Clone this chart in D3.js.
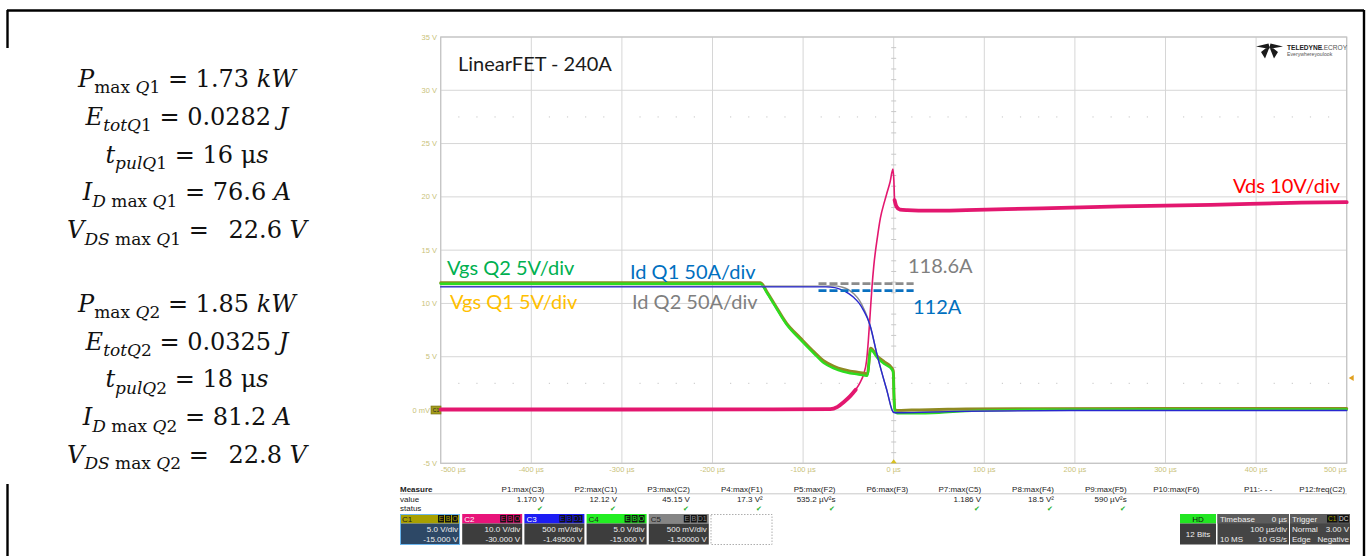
<!DOCTYPE html>
<html><head><meta charset="utf-8">
<script src="https://cdn.jsdelivr.net/npm/d3@7"></script>
<style>
html,body{margin:0;padding:0;background:#fff;}
svg{display:block;}
</style></head><body>
<svg id="c" width="1370" height="556"></svg>
<script>
// ---------- axis ticks ----------
const timeTicks = [-500,-400,-300,-200,-100,0,100,200,300,400,500];
const timeTickLabels = ["-500 µs","-400 µs","-300 µs","-200 µs","-100 µs","0 µs","100 µs","200 µs","300 µs","400 µs","500 µs"];
const voltTicks = [35,30,25,20,15,10,5,0,-5];
const voltTickLabels = ["35 V","30 V","25 V","20 V","15 V","10 V","5 V","0 mV","-5 V"];

// ---------- traces (time in µs, level in screen volts) ----------
const vdsTime = [-500,-300,-150,-70,-62,-55,-48,-42,-37,-33,-30,-28,-26,-24,-22,-18,-14.7,-10,-7,-4,-0.8,0.2,1,3,7,15,40,80,150,250,350,450,500];
const vdsVolt = [0.05,0.05,0.06,0.08,0.3,0.75,1.3,1.9,2.6,3.4,4.6,6.5,9.0,11.5,13.5,16.2,18.0,19.6,20.5,21.4,22.6,21.5,19.7,19.1,18.8,18.75,18.7,18.75,18.9,19.1,19.25,19.45,19.5];

const vgsTime = [-500,-147,-140,-132,-118,-103,-88,-77,-66,-56,-48,-40,-33,-29,-25.5,-18,-10,-2,-0.5,0.5,1.5,4,20,50,80,150,300,500];
const vgsQ2Volt = [11.85,11.85,11.0,9.9,8.0,6.6,5.3,4.4,3.9,3.6,3.45,3.35,3.25,3.2,5.65,4.9,4.3,3.8,3.5,0.8,-0.1,-0.3,-0.3,-0.25,-0.1,0.02,0.05,0.05];
const vgsQ1Volt = [11.95,11.95,11.1,10.0,8.1,6.75,5.45,4.6,4.1,3.8,3.65,3.55,3.45,3.4,5.8,5.05,4.5,3.95,3.65,0.9,0.05,-0.05,0.0,0.05,0.1,0.12,0.15,0.15];

const idTime = [-500,-75,-65,-58,-50,-44,-38,-33,-29,-26,-18.4,-7.4,-0.5,1,10,60,100,200,500];
const idQ1Volt = [11.55,11.55,11.48,11.3,10.95,10.55,10.0,9.3,8.6,7.9,5.2,1.8,-0.2,-0.25,-0.25,-0.15,-0.1,-0.05,-0.05];
const idQ2Volt = [11.6,11.62,11.65,11.55,11.3,10.9,10.3,9.5,8.7,7.9,5.2,1.8,-0.2,-0.2,-0.2,-0.12,-0.08,-0.03,-0.03];

// ---------- current annotations (A) ----------
const peakCurrents = [118.6, 112];
const peakLabels = ["118.6A", "112A"];
const peakSpan = [-83, 22];

// ---------- summary equations ----------
const eqSym = ["P","E","t","I","V","P","E","t","I","V"];
const eqSub = ["max Q1","totQ1","pulQ1","D max Q1","DS max Q1","max Q2","totQ2","pulQ2","D max Q2","DS max Q2"];
const eqValue = ["1.73","0.0282","16","76.6","22.6","1.85","0.0325","18","81.2","22.8"];
const eqUnit = ["kW","J","μs","A","V","kW","J","μs","A","V"];

// ---------- measurement readout ----------
const measNames = ["P1:max(C3)","P2:max(C1)","P3:max(C2)","P4:max(F1)","P5:max(F2)","P6:max(F3)","P7:max(C5)","P8:max(F4)","P9:max(F5)","P10:max(F6)","P11:- - -","P12:freq(C2)"];
const measValues = ["1.170 V","12.12 V","45.15 V","17.3 V²","535.2 µV²s","","1.186 V","18.5 V²","590 µV²s","","",""];
const chNames = ["C1","C2","C3","C4","C5"];
const chScale = ["5.0 V/div","10.0 V/div","500 mV/div","5.0 V/div","500 mV/div"];
const chOffset = ["-15.000 V","-30.000 V","-1.49500 V","-15.000 V","-1.50000 V"];
const chFlags = ["EBO","EBO","EBD1","EBO","EBD1"];

const svg = d3.select("#c");

// outer frame
const frame = svg.append("g").attr("stroke","#000").attr("stroke-width",2.4);
frame.append("line").attr("x1",7).attr("y1",10.5).attr("x2",1364).attr("y2",10.5);
frame.append("line").attr("x1",1364).attr("y1",10).attr("x2",1364).attr("y2",556);
frame.append("line").attr("x1",7.5).attr("y1",10).attr("x2",7.5).attr("y2",48);
frame.append("line").attr("x1",7.5).attr("y1",484).attr("x2",7.5).attr("y2",556);

// ---------- summary equations ----------
const eqBase = [86.7,124.6,162.5,200.4,238.3,311.7,349.5,387.3,425.1,462.5];
const eqG = svg.append("g").attr("font-family","'DejaVu Serif', serif").attr("fill","#111");
function runs(str){
  const out = [];
  const re = /(max)|([A-Za-z]+)|(\d+)|(\s+)/g; let m;
  while((m = re.exec(str))){
    if(m[1]) out.push([m[1],false]);
    else if(m[2]) out.push([m[2],true]);
    else if(m[3]) out.push([m[3],false]);
    else out.push([" ",false]);
  }
  return out;
}
eqSym.forEach((s,i)=>{
  const t = eqG.append("text").attr("x",187).attr("y",eqBase[i]).attr("text-anchor","middle").attr("font-size",24);
  t.append("tspan").attr("font-style","italic").text(s);
  const r = runs(eqSub[i]);
  r.forEach((p,j)=>{
    const ts = t.append("tspan").attr("font-size",17).attr("font-style",p[1]?"italic":"normal").text(p[0]);
    if(j===0) ts.attr("dy",6.5);
  });
  const wide = i%5===4 ? "\u2002" : "";
  t.append("tspan").attr("dy",-6.5).text(" = " + wide + eqValue[i] + " ");
  const u = eqUnit[i];
  if(u==="μs"){
    t.append("tspan").text("μ");
    t.append("tspan").attr("font-style","italic").text("s");
  } else {
    t.append("tspan").attr("font-style","italic").text(u);
  }
});

// ---------- scope plot ----------
const x = d3.scaleLinear().domain([-500,500]).range([440.7,1346.7]);
const y = d3.scaleLinear().domain([-5,35]).range([463.3,37]);
const ampsToScreen = a => a / 10; // 50 A/div on a 5 V/div screen

const grid = svg.append("g");
grid.selectAll("line.v").data(timeTicks).join("line")
  .attr("x1",d=>x(d)).attr("x2",d=>x(d)).attr("y1",y(35)).attr("y2",y(-5))
  .attr("stroke","#d6d6d6").attr("stroke-width",1);
grid.selectAll("line.h").data(voltTicks).join("line")
  .attr("x1",x(-500)).attr("x2",x(500)).attr("y1",d=>y(d)).attr("y2",d=>y(d))
  .attr("stroke","#d6d6d6").attr("stroke-width",1);
grid.append("rect").attr("x",x(-500)).attr("y",y(35)).attr("width",x(500)-x(-500)).attr("height",y(-5)-y(35))
  .attr("fill","none").attr("stroke","#c4c4c4").attr("stroke-width",1.2);

// minor marks along the centre time line
const minorV = d3.range(-5,35.01,1).filter(v=>v%5!==0);
grid.selectAll("line.mv").data(minorV).join("line")
  .attr("x1",x(0)-2.5).attr("x2",x(0)+2.5).attr("y1",d=>y(d)).attr("y2",d=>y(d))
  .attr("stroke","#c8c8c8");
// dotted minor rows
const minorT = d3.range(-500,500.1,20).filter(t=>t%100!==0);
[27.5,2.5].forEach(lv=>{
  grid.selectAll(null).data(minorT).join("rect")
    .attr("x",d=>x(d)-0.6).attr("y",y(lv)-0.6).attr("width",1.2).attr("height",1.2).attr("fill","#cfcfcf");
});

// axis labels
const axG = svg.append("g").attr("font-family","'Liberation Sans', Arial, sans-serif").attr("font-size",7.5).attr("fill","#c9c27a");
axG.selectAll("text.y").data(voltTicks).join("text")
  .attr("x",d=>d===0?430:437).attr("y",d=>y(d)+2.6).attr("text-anchor","end").text((d,i)=>voltTickLabels[i]);
axG.selectAll("text.x").data(timeTicks).join("text")
  .attr("x",d=>x(d)).attr("y",472)
  .attr("text-anchor",(d,i)=>i===0?"start":(i===timeTicks.length-1?"end":"middle"))
  .text((d,i)=>timeTickLabels[i]);

// channel 1 ground marker and trigger markers
svg.append("rect").attr("x",431).attr("y",y(0)-4).attr("width",10).attr("height",8).attr("fill","#a49c1c").attr("stroke","#6e6a10").attr("stroke-width",0.6);
svg.append("text").attr("x",436).attr("y",y(0)+2).attr("text-anchor","middle").attr("font-size",5).attr("font-family","'Liberation Sans', Arial").attr("fill","#222").text("C1");
svg.append("path").attr("d",`M${x(500)+2},${y(3)} l5,-3 l0,6 z`).attr("fill","#e0a020");
svg.append("path").attr("d",`M${x(0)},${y(-5)-4} l-3,4 l6,0 z`).attr("fill","#d8c020");

// logo
const logo = svg.append("g");
logo.append("path").attr("d","M1256,46.5 L1268.5,43.5 L1270,49 Z M1283,46.5 L1270.5,43.5 L1269,49 Z M1265.5,48.5 L1269,48.5 L1265,58.5 L1261,52 Z M1270,48.5 L1273.5,48.5 L1278,52 L1274,58.5 Z").attr("fill","#1a1a1a");
logo.append("text").attr("x",1287).attr("y",50).attr("font-family","'Liberation Sans', Arial").attr("font-weight","bold").attr("font-size",6.6).attr("fill","#222").text("TELEDYNE");
logo.append("text").attr("x",1320).attr("y",50).attr("font-family","'Liberation Sans', Arial").attr("font-size",6.6).attr("fill","#555").text("LECROY");
logo.append("text").attr("x",1287).attr("y",56).attr("font-family","'Liberation Sans', Arial").attr("font-size",5.2).attr("fill","#555").text("Everywhereyoulook");

// traces
const line = d3.line().x(d=>x(d[0])).y(d=>y(d[1])).curve(d3.curveMonotoneX);
const tr = svg.append("g").attr("fill","none").attr("stroke-linejoin","round").attr("stroke-linecap","round");
const vdsPts = d3.zip(vdsTime,vdsVolt);
// fast edge drawn thin, the slow (noisy) parts drawn as a wider band
tr.append("path").attr("d",line(vdsPts)).attr("stroke","#e3176f").attr("stroke-width",1.6);
tr.append("path").attr("d",line(vdsPts.filter(d=>d[0]<=-42))).attr("stroke","#e3176f").attr("stroke-width",3.8);
tr.append("path").attr("d",line(vdsPts.filter(d=>d[0]>=1))).attr("stroke","#e3176f").attr("stroke-width",3.8);
tr.append("path").attr("d",line(d3.zip(vgsTime,vgsQ1Volt))).attr("stroke","#8f8a22").attr("stroke-width",3);
tr.append("path").attr("d",line(d3.zip(vgsTime,vgsQ2Volt))).attr("stroke","#2edc20").attr("stroke-width",2.4);
tr.append("path").attr("d",line(d3.zip(idTime,idQ2Volt))).attr("stroke","#8c8c8c").attr("stroke-width",1.4);
tr.append("path").attr("d",line(d3.zip(idTime,idQ1Volt))).attr("stroke","#2828d0").attr("stroke-width",1.4);

// peak-current markers
const peakColors = ["#8c8c8c","#0a70c0"];
peakCurrents.forEach((a,i)=>{
  svg.append("line").attr("x1",x(peakSpan[0])).attr("x2",x(peakSpan[1]))
    .attr("y1",y(ampsToScreen(a))).attr("y2",y(ampsToScreen(a)))
    .attr("stroke",peakColors[i]).attr("stroke-width",2.6).attr("stroke-dasharray","8,3");
});

// trace annotations
const ann = svg.append("g").attr("font-family","Lato, 'Open Sans', sans-serif").attr("font-size",20);
ann.append("text").attr("x",458).attr("y",70.5).attr("fill","#1a1a1a").text("LinearFET - 240A");
ann.append("text").attr("x",447).attr("y",275).attr("fill","#00b050").text("Vgs Q2 5V/div");
ann.append("text").attr("x",450).attr("y",309).attr("fill","#ffc000").text("Vgs Q1 5V/div");
ann.append("text").attr("x",630).attr("y",279).attr("fill","#0070c0").text("Id Q1 50A/div");
ann.append("text").attr("x",632).attr("y",309).attr("fill","#7f7f7f").text("Id Q2 50A/div");
ann.append("text").attr("x",908).attr("y",273).attr("fill","#7f7f7f").text(peakLabels[0]);
ann.append("text").attr("x",913).attr("y",314).attr("fill","#0070c0").text(peakLabels[1]);
ann.append("text").attr("x",1340).attr("y",193).attr("text-anchor","end").attr("fill","#ff0000").text("Vds 10V/div");

// ---------- measurement readout ----------
const ro = svg.append("g").attr("font-family","'Liberation Sans', Arial, sans-serif").attr("font-size",8).attr("fill","#222");
ro.append("text").attr("x",400).attr("y",491.5).attr("font-weight","bold").text("Measure");
ro.append("text").attr("x",400).attr("y",501.5).text("value");
ro.append("text").attr("x",400).attr("y",510.5).text("status");
ro.append("line").attr("x1",400).attr("x2",1347).attr("y1",493.8).attr("y2",493.8).attr("stroke","#bbb").attr("stroke-width",0.8);
const colX = i => 544.3 + 72.8*i;
ro.selectAll("text.mn").data(measNames).join("text").attr("x",(d,i)=>colX(i)).attr("y",491.5).attr("text-anchor","end").text(d=>d);
ro.selectAll("text.mv").data(measValues).join("text").attr("x",(d,i)=>colX(i)).attr("y",501.5).attr("text-anchor","end").text(d=>d);
ro.selectAll("text.ms").data(measValues.filter(d=>d!=="").map(d=>measValues.indexOf(d))).join("text")
  .attr("x",d=>colX(d)-4).attr("y",511).attr("text-anchor","middle").attr("fill","#27b12a").attr("font-size",7).text("✔");

// channel descriptors
const chHead = ["#a8a000","#e8147a","#1c1cf4","#22ee22","#858585"];
chNames.forEach((c,i)=>{
  const x0 = 400 + 62.2*i, w = 60;
  const g = svg.append("g").attr("font-family","'Liberation Sans', Arial, sans-serif").attr("font-size",8);
  g.append("rect").attr("x",x0).attr("y",514).attr("width",w).attr("height",9.5).attr("fill",chHead[i]);
  g.append("rect").attr("x",x0).attr("y",523.5).attr("width",w).attr("height",21).attr("fill",i===0?"#2d4866":"#3d3d3d");
  if(i===0) g.append("rect").attr("x",x0+0.5).attr("y",514.5).attr("width",w-1).attr("height",30).attr("fill","none").attr("stroke","#6cb6ee").attr("stroke-width",1);
  g.append("text").attr("x",x0+2).attr("y",521.5).attr("fill",i===1||i===2?"#fff":"#222").text(c);
  const flags = chFlags[i]==="EBD1" ? ["E","B","D1"] : ["E","B","O"];
  let fx = x0 + w - 1;
  flags.slice().reverse().forEach(f=>{
    const fw = f.length>1 ? 10 : 7;
    fx -= fw;
    g.append("rect").attr("x",fx).attr("y",515).attr("width",fw-1).attr("height",7.5).attr("fill","#111");
    g.append("text").attr("x",fx+(fw-1)/2).attr("y",521.3).attr("text-anchor","middle").attr("font-size",7).attr("fill",chHead[i]).text(f);
  });
  g.append("text").attr("x",x0+w-2).attr("y",532).attr("text-anchor","end").attr("fill","#eee").text(chScale[i]);
  g.append("text").attr("x",x0+w-2).attr("y",542).attr("text-anchor","end").attr("fill","#eee").text(chOffset[i]);
});
svg.append("rect").attr("x",711).attr("y",514.5).attr("width",61).attr("height",30).attr("fill","none")
  .attr("stroke","#999").attr("stroke-dasharray","1.5,1.5").attr("stroke-width",0.8);

// acquisition boxes
const acq = svg.append("g").attr("font-family","'Liberation Sans', Arial, sans-serif").attr("font-size",8).attr("fill","#eee");
acq.append("rect").attr("x",1180).attr("y",514).attr("width",36).attr("height",9.5).attr("fill","#22e622");
acq.append("rect").attr("x",1180).attr("y",523.5).attr("width",36).attr("height",21).attr("fill","#3d3d3d");
acq.append("text").attr("x",1198).attr("y",521.5).attr("text-anchor","middle").attr("fill","#111").text("HD");
acq.append("text").attr("x",1198).attr("y",537).attr("text-anchor","middle").text("12 Bits");
acq.append("rect").attr("x",1217.5).attr("y",514).attr("width",71.5).attr("height",30.5).attr("fill","#454545");
acq.append("rect").attr("x",1217.5).attr("y",514).attr("width",71.5).attr("height",9.5).attr("fill","#5c5c5c");
acq.append("text").attr("x",1220).attr("y",521.5).text("Timebase");
acq.append("text").attr("x",1287).attr("y",521.5).attr("text-anchor","end").text("0 µs");
acq.append("text").attr("x",1287).attr("y",532).attr("text-anchor","end").text("100 µs/div");
acq.append("text").attr("x",1220).attr("y",542).text("10 MS");
acq.append("text").attr("x",1287).attr("y",542).attr("text-anchor","end").text("10 GS/s");
acq.append("rect").attr("x",1290).attr("y",514).attr("width",60).attr("height",30.5).attr("fill","#454545");
acq.append("rect").attr("x",1290).attr("y",514).attr("width",60).attr("height",9.5).attr("fill","#5c5c5c");
acq.append("text").attr("x",1292).attr("y",521.5).text("Trigger");
[["C1",1327,"#a8a000"],["DC",1338.5,"#ddd"]].forEach(b=>{
  acq.append("rect").attr("x",b[1]).attr("y",515).attr("width",10.5).attr("height",7.5).attr("fill","#111");
  acq.append("text").attr("x",b[1]+5.25).attr("y",521.3).attr("text-anchor","middle").attr("font-size",6.5).attr("fill",b[2]).text(b[0]);
});
acq.append("text").attr("x",1292).attr("y",532).text("Normal");
acq.append("text").attr("x",1349).attr("y",532).attr("text-anchor","end").text("3.00 V");
acq.append("text").attr("x",1292).attr("y",542).text("Edge");
acq.append("text").attr("x",1349).attr("y",542).attr("text-anchor","end").text("Negative");
</script>
</body></html>
